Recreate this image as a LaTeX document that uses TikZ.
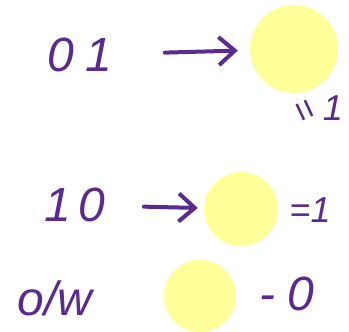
\documentclass[tikz,border=0pt]{standalone}
\usepackage{fontspec}
\setmainfont{Liberation Sans}
\usetikzlibrary{arrows.meta}
\definecolor{ink}{HTML}{5B2A8E}
\definecolor{blob}{HTML}{FFFF99}
\begin{document}
\begin{tikzpicture}[x=1pt,y=-1pt,
  hand/.style={text=ink,font=\fontsize{48}{52}\selectfont\itshape,inner sep=0pt},
  small/.style={text=ink,font=\fontsize{36}{40}\selectfont\itshape,inner sep=0pt},
  blobnode/.style={circle,fill=blob,draw=none,inner sep=0pt},
  arr/.style={draw=ink,line width=4pt,line cap=round,-{Straight Barb[length=16pt,width=28pt,line width=4pt]}}]
\useasboundingbox (0,0) rectangle (349,332);
\node[hand] (t1) at (80,55) {0\hspace{12pt}1};
\node[blobnode,minimum size=88pt] (c1) at (294,49) {};
\node[small,anchor=center] (e1) at (316,110) {\rotatebox[origin=c]{-65}{=}\hspace{9pt}1};
\node[hand] (t2) at (75,205) {1\hspace{8pt}0};
\node[blobnode,minimum size=74pt] (c2) at (241,209) {};
\node[small] (e2) at (310,210) {=1};
\node[hand] (t3) at (55,298) {o/w};
\node[blobnode,minimum size=72pt] (c3) at (200,296) {};
\node[hand] (e3) at (287,294) {-\hspace{12pt}0};
\draw[arr,shorten <=52pt,shorten >=12pt] (t1) -- (c1);
\draw[arr,shorten <=38pt,shorten >=6pt] (t2) -- (c2);
\end{tikzpicture}
\end{document}
